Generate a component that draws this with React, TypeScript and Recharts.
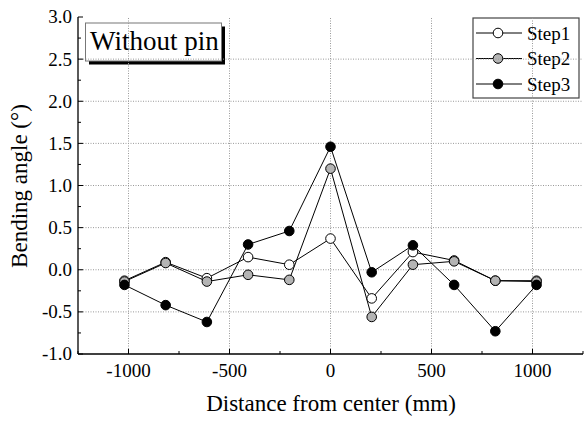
import React from 'react';
import { LineChart, Line, XAxis, YAxis, ReferenceLine } from 'recharts';

const distances = [-1020, -816, -612, -408, -204, 0, 204, 408, 612, 816, 1020];
const step1 = [-0.13, 0.09, -0.1, 0.15, 0.06, 0.37, -0.34, 0.21, 0.11, -0.13, -0.13];
const step2 = [-0.14, 0.08, -0.14, -0.06, -0.12, 1.2, -0.56, 0.06, 0.1, -0.13, -0.14];
const step3 = [-0.18, -0.42, -0.62, 0.3, 0.46, 1.46, -0.03, 0.29, -0.18, -0.73, -0.18];

const seriesNames = ['Step1', 'Step2', 'Step3'];
const seriesFills = ['#ffffff', '#b4b4b4', '#000000'];

const xTicks = [-1250, -1000, -750, -500, -250, 0, 250, 500, 750, 1000, 1250];
const xMajor = [-1000, -500, 0, 500, 1000];
const yTicks = [-1, -0.75, -0.5, -0.25, 0, 0.25, 0.5, 0.75, 1, 1.25, 1.5, 1.75, 2, 2.25, 2.5, 2.75, 3];
const yMajorGrid = [-0.5, 0, 0.5, 1, 1.5, 2, 2.5];

const data = distances.map((d, i) => ({ x: d, s1: step1[i], s2: step2[i], s3: step3[i] }));

const FONT = '"Liberation Serif", "Times New Roman", serif';
const isMajorX = (v: number) => v % 500 === 0;
const isMajorY = (v: number) => Math.abs(v * 2 - Math.round(v * 2)) < 1e-6;

const BottomTick = (props: any) => {
  const { x, y, payload } = props;
  const axisY = y - 10;
  const v = payload.value;
  const major = isMajorX(v);
  const showLabel = major && Math.abs(v) <= 1000;
  return (
    <g>
      <line x1={x} x2={x} y1={axisY} y2={axisY - (major ? 5 : 3)} stroke="#000" strokeWidth={1} />
      {showLabel && (
        <text x={x} y={axisY + 23} textAnchor="middle" fontSize={19} style={{ fontFamily: FONT }} fill="#000">
          {v}
        </text>
      )}
    </g>
  );
};

const TopTick = (props: any) => {
  const { x, y, payload } = props;
  const major = isMajorX(payload.value);
  return <line x1={x} x2={x} y1={y} y2={y + (major ? 5 : 3)} stroke="#000" strokeWidth={1} />;
};

const LeftTick = (props: any) => {
  const { x, y, payload } = props;
  const axisX = x + 6;
  const v = payload.value;
  const major = isMajorY(v);
  return (
    <g>
      <line x1={axisX} x2={axisX + (major ? 5 : 3)} y1={y} y2={y} stroke="#000" strokeWidth={1} />
      {major && (
        <text x={axisX - 6} y={y} dy="0.34em" textAnchor="end" fontSize={19} style={{ fontFamily: FONT }} fill="#000">
          {v.toFixed(1)}
        </text>
      )}
    </g>
  );
};

const RightTick = (props: any) => {
  const { x, y, payload } = props;
  const major = isMajorY(payload.value);
  return <line x1={x} x2={x - (major ? 5 : 3)} y1={y} y2={y} stroke="#000" strokeWidth={1} />;
};

const LEG_X = 473;
const LEG_Y = 18;

export default function App() {
  return (
    <div style={{ position: 'absolute', left: 0, top: 0, width: 584, height: 423, background: '#fff' }}>
      <LineChart width={584} height={423} data={data} margin={{ top: 17, right: 1, bottom: 0, left: 0 }}>
        {xMajor.map((v) => (
          <ReferenceLine key={'gx' + v} x={v} stroke="#999" strokeDasharray="1 1.5" strokeWidth={1} />
        ))}
        {yMajorGrid.map((v) => (
          <ReferenceLine key={'gy' + v} y={v} stroke="#999" strokeDasharray="1 1.5" strokeWidth={1} />
        ))}
        <XAxis
          dataKey="x"
          type="number"
          domain={[-1250, 1250]}
          ticks={xTicks}
          interval={0}
          allowDataOverflow
          height={69}
          tickSize={0}
          tickMargin={10}
          tickLine={false}
          axisLine={{ stroke: '#000', strokeWidth: 1.3 }}
          tick={<BottomTick />}
        />
        <XAxis
          xAxisId="top"
          orientation="top"
          dataKey="x"
          type="number"
          domain={[-1250, 1250]}
          ticks={xTicks}
          interval={0}
          allowDataOverflow
          height={0}
          tickSize={0}
          tickMargin={0}
          tickLine={false}
          axisLine={{ stroke: '#000', strokeWidth: 1.3 }}
          tick={<TopTick />}
        />
        <YAxis
          type="number"
          domain={[-1, 3]}
          ticks={yTicks}
          interval={0}
          allowDataOverflow
          width={78}
          tickSize={0}
          tickMargin={6}
          tickLine={false}
          axisLine={{ stroke: '#000', strokeWidth: 1.3 }}
          tick={<LeftTick />}
        />
        <YAxis
          yAxisId="right"
          orientation="right"
          type="number"
          domain={[-1, 3]}
          ticks={yTicks}
          interval={0}
          allowDataOverflow
          width={0}
          tickSize={0}
          tickMargin={0}
          tickLine={false}
          axisLine={{ stroke: '#000', strokeWidth: 1.3 }}
          tick={<RightTick />}
        />
        <Line
          dataKey="s1"
          name={seriesNames[0]}
          stroke="#000"
          strokeWidth={1}
          isAnimationActive={false}
          dot={{ r: 4.8, fill: seriesFills[0], stroke: '#000', strokeWidth: 1 }}
        />
        <Line
          dataKey="s2"
          name={seriesNames[1]}
          stroke="#000"
          strokeWidth={1}
          isAnimationActive={false}
          dot={{ r: 4.8, fill: seriesFills[1], stroke: '#000', strokeWidth: 1 }}
        />
        <Line
          dataKey="s3"
          name={seriesNames[2]}
          stroke="#000"
          strokeWidth={1}
          isAnimationActive={false}
          dot={{ r: 4.8, fill: seriesFills[2], stroke: '#000', strokeWidth: 1 }}
        />
        <g>
          <rect x={LEG_X} y={LEG_Y} width={106} height={80} fill="#fff" stroke="#444" strokeWidth={1.2} />
          {seriesNames.map((name, i) => {
            const cy = LEG_Y + 15 + i * 25.5;
            return (
              <g key={name}>
                <line x1={LEG_X + 3} x2={LEG_X + 49} y1={cy} y2={cy} stroke="#000" strokeWidth={1} />
                <circle cx={LEG_X + 25} cy={cy} r={4.8} fill={seriesFills[i]} stroke="#000" strokeWidth={1} />
                <text x={LEG_X + 54} y={cy + 6.5} fontSize={19} style={{ fontFamily: FONT }} fill="#000">
                  {name}
                </text>
              </g>
            );
          })}
        </g>
        <g>
          <rect x={89} y={26.5} width={136} height={38} fill="#000" />
          <rect x={85.5} y={23} width={136} height={38} fill="#fff" stroke="#777" strokeWidth={1} />
          <text x={90} y={50} fontSize={27} style={{ fontFamily: FONT }} fill="#000">
            Without pin
          </text>
        </g>
        <text x={331} y={411} textAnchor="middle" fontSize={23} style={{ fontFamily: FONT }} fill="#000">
          Distance from center (mm)
        </text>
        <text
          x={27}
          y={186}
          textAnchor="middle"
          fontSize={23}
          style={{ fontFamily: FONT }}
          fill="#000"
          transform="rotate(-90 27 186)"
        >
          Bending angle (°)
        </text>
      </LineChart>
    </div>
  );
}
